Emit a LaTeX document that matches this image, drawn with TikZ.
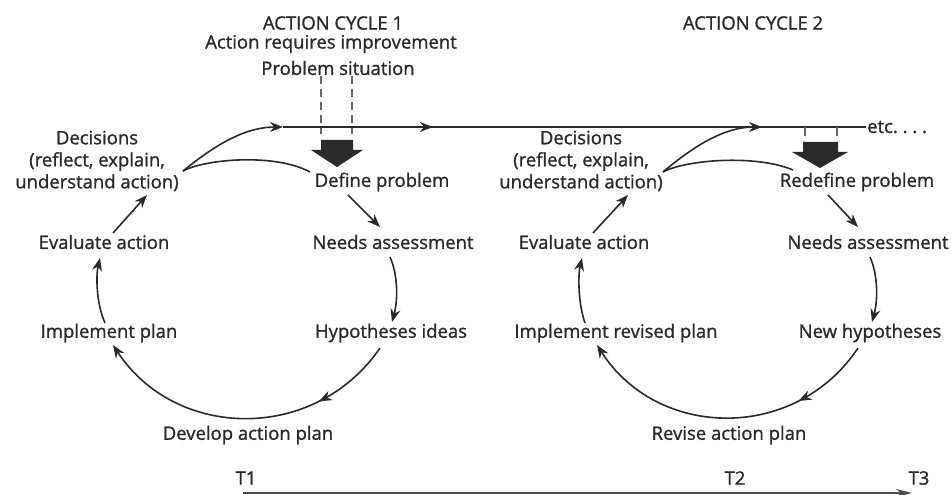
\documentclass[tikz,border=0pt]{standalone}
\usepackage{fontspec}
\setmainfont{Open Sans}[FakeBold=1.2]
\usetikzlibrary{arrows.meta,decorations.markings}
\definecolor{ink}{HTML}{2A2A2A}
\begin{document}
\begin{tikzpicture}[x=1pt,y=1pt,
  lbl/.style={font=\fontsize{18.5}{22}\selectfont, inner sep=1pt, align=center, text=ink},
  conn/.style={line width=1.6pt, draw=ink},
  tip/.style={-{Stealth[length=13pt,width=10pt]}},
  midtip/.style={postaction={decorate}, decoration={markings, mark=at position #1 with {\arrow{Stealth[length=13pt,width=10pt]}}}},
  dashline/.style={line width=1.2pt, draw=black!60, dash pattern=on 8pt off 5pt},
  blockarrow/.style={fill=ink},
]
\useasboundingbox (0,0) rectangle (951,495);

% titles
\node[lbl] (ac1) at (333,472) {ACTION CYCLE 1};
\node[lbl] (air) at (331,451) {Action requires improvement};
\node[lbl] (ps)  at (338,427) {Problem situation};
\node[lbl] (ac2) at (753,472) {ACTION CYCLE 2};

% cycle 1
\node[lbl] (dec1) at (97,334) {Decisions\\(reflect, explain,\\understand action)};
\node[lbl] (def1) at (382,313) {Define problem};
\node[lbl] (need1) at (393,253) {Needs assessment};
\node[lbl] (eval1) at (104,253) {Evaluate action};
\node[lbl] (impl1) at (109,162) {Implement plan};
\node[lbl] (hyp1) at (391,162) {Hypotheses ideas};
\node[lbl] (dev1) at (248,60) {Develop action plan};

% cycle 2
\node[lbl] (dec2) at (581,334) {Decisions\\(reflect, explain,\\understand action)};
\node[lbl] (redef) at (857,313) {Redefine problem};
\node[lbl] (need2) at (868,253) {Needs assessment};
\node[lbl] (eval2) at (584,253) {Evaluate action};
\node[lbl] (impl2) at (616,162) {Implement revised plan};
\node[lbl] (newhyp) at (870,162) {New hypotheses};
\node[lbl] (rev) at (729,60) {Revise action plan};

% time labels
\node[lbl] (t1) at (246,17) {T1};
\node[lbl] (t2) at (735,17) {T2};
\node[lbl] (t3) at (919,17) {T3};
\node[lbl, anchor=west] (etc) at (866,368) {etc.\ .\ .\ .};

% main timeline
\coordinate (l0) at (283,368);
\coordinate (l1) at (762,368);
\draw[conn, midtip=0.257] (l0) -- (etc.west);

% decisions -> timeline and -> define problem
\draw[conn, tip] ([shift={(86,-10)}]dec1.center) .. controls (215,350) and (245,368) .. (l0);
\draw[conn] ([shift={(86,-10)}]dec1.center) .. controls (205,336) and (275,342) .. ([shift={(-72,10)}]def1.center);
\draw[conn, tip] ([shift={(82,-11)}]dec2.center) .. controls (695,350) and (725,368) .. (l1);
\draw[conn] ([shift={(82,-11)}]dec2.center) .. controls (685,335) and (755,341) .. ([shift={(-64,12)}]redef.center);

% dashed lines and block arrow 1
\draw[dashline] ([xshift=-17pt]ps.south) -- ++(0,-58);
\draw[dashline] ([xshift=14pt]ps.south) -- ++(0,-58);
\coordinate (ba1) at (337,355);
\fill[blockarrow] (ba1) ++(-16,0) -- ++(32,0) -- ++(0,-10) -- ++(10,0) -- (337,328) -- (311,345) -- (321,345) -- cycle;

% ticks and block arrow 2
\draw[line width=1.2pt, draw=black!60] (805,368) -- (805,359);
\draw[line width=1.2pt, draw=black!60] (837,368) -- (837,359);
\fill[blockarrow] (803,353) -- (838,353) -- (838,343) -- (848,343) -- (820,327) -- (792,343) -- (803,343) -- cycle;

% cycle 1 arrows
\draw[conn, tip] ([shift={(-34,-13)}]def1.center) -- ([shift={(-13,15)}]need1.center);
\draw[conn, tip] ([shift={(-3,-15)}]need1.center) .. controls (398,220) and (398,195) .. ([shift={(1,11)}]hyp1.center);
\draw[conn, tip, midtip=0.26] ([shift={(-11,-15)}]hyp1.center) .. controls (315.3,52.5) and (175.9,54.3) .. ([shift={(4,-12)}]impl1.center);
\draw[conn, tip] ([shift={(-4,10)}]impl1.center) .. controls (96,192) and (96,220) .. ([shift={(-4,-16)}]eval1.center);
\draw[conn, tip] ([shift={(9,9)}]eval1.center) -- ([shift={(50,-34)}]dec1.center);

% cycle 2 arrows
\draw[conn, tip] ([shift={(-29,-13)}]redef.center) -- ([shift={(-10,15)}]need2.center);
\draw[conn, tip] ([shift={(2,-15)}]need2.center) .. controls (878,220) and (878,195) .. ([shift={(2,11)}]newhyp.center);
\draw[conn, tip, midtip=0.26] ([shift={(-12,-15)}]newhyp.center) .. controls (795.7,53.1) and (657.7,55.1) .. ([shift={(-19,-12)}]impl2.center);
\draw[conn, tip] ([shift={(-31,10)}]impl2.center) .. controls (578,192) and (578,220) .. ([shift={(-2,-16)}]eval2.center);
\draw[conn, tip] ([shift={(9,9)}]eval2.center) -- ([shift={(47,-34)}]dec2.center);

% time axis
\draw[line width=1.8pt, draw=black!70, -{Stealth[length=16pt,width=8pt]}] ([shift={(-3,-15)}]t1.center) -- ([shift={(-7,-15)}]t3.center);
\end{tikzpicture}
\end{document}
